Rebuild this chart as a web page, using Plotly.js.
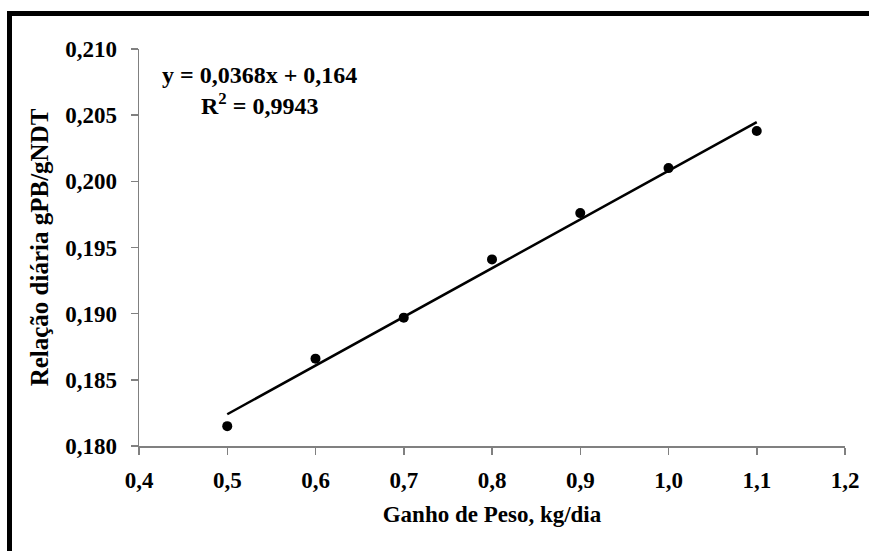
<!DOCTYPE html>
<html>
<head>
<meta charset="utf-8">
<script src="https://cdn.plot.ly/plotly-3.0.1.min.js"></script>
<style>
  html, body { margin: 0; padding: 0; background: #fff; }
  #wrap { position: relative; width: 869px; height: 551px; overflow: hidden; }
  #chart { position: absolute; left: 0; top: 0; width: 869px; height: 551px; }
  #frame { position: absolute; left: 7px; top: 11px; width: 880px; height: 560px;
           border-top: 5px solid #000; border-left: 5px solid #000; pointer-events: none; }
</style>
</head>
<body>
<div id="wrap">
  <div id="chart"></div>
  <div id="frame"></div>
</div>
<script>
// Data
const ganhoPeso = [0.5, 0.6, 0.7, 0.8, 0.9, 1.0, 1.1];
const relacao   = [0.1815, 0.1866, 0.1897, 0.1941, 0.1976, 0.2010, 0.2038];

// Linear trendline shown on the chart: y = 0,0368x + 0,164
const trendX = [0.5, 1.1];
const trendY = [0.1824, 0.20448];

const xTickVals = [0.4, 0.5, 0.6, 0.7, 0.8, 0.9, 1.0, 1.1, 1.2];
const xTickText = ["0,4", "0,5", "0,6", "0,7", "0,8", "0,9", "1,0", "1,1", "1,2"];
const yTickVals = [0.180, 0.185, 0.190, 0.195, 0.200, 0.205, 0.210];
const yTickText = ["0,180", "0,185", "0,190", "0,195", "0,200", "0,205", "0,210"];

const equationText = "y = 0,0368x + 0,164<br>R<sup>2</sup> = 0,9943";

const FONT = "Liberation Serif, Times New Roman, serif";

const traces = [
  {
    x: trendX, y: trendY, type: "scatter", mode: "lines",
    line: { color: "#000", width: 2.5 }, hoverinfo: "skip", showlegend: false
  },
  {
    x: ganhoPeso, y: relacao, type: "scatter", mode: "markers",
    marker: { color: "#000", size: 10 }, showlegend: false
  }
];

const layout = {
  width: 869, height: 551,
  margin: { l: 139, r: 24, t: 49, b: 105 },
  paper_bgcolor: "#fff", plot_bgcolor: "#fff",
  font: { family: FONT, color: "#000" },
  showlegend: false,
  xaxis: {
    range: [0.4, 1.2], tickvals: xTickVals, ticktext: xTickText,
    showgrid: false, zeroline: false,
    showline: true, linecolor: "#808080", linewidth: 1.5,
    ticks: "outside", ticklen: 7, tickcolor: "#808080", tickwidth: 1.5,
    tickfont: { family: FONT, size: 23, color: "#000", weight: "bold" },
    ticklabelstandoff: 6,
    title: { text: "<b>Ganho de Peso, kg/dia</b>", font: { family: FONT, size: 23, color: "#000" }, standoff: 14 }
  },
  yaxis: {
    range: [0.180, 0.210], tickvals: yTickVals, ticktext: yTickText,
    showgrid: false, zeroline: false,
    showline: true, linecolor: "#808080", linewidth: 1.5,
    ticks: "outside", ticklen: 7, tickcolor: "#808080", tickwidth: 1.5,
    tickfont: { family: FONT, size: 23, color: "#000", weight: "bold" },
    ticklabelstandoff: 9,
    title: { text: "<b>Relação diária gPB/gNDT</b>", font: { family: FONT, size: 25, color: "#000" }, standoff: 9 }
  },
  annotations: [
    {
      xref: "paper", yref: "paper", x: 0.171, y: 0.895,
      xanchor: "center", yanchor: "middle", align: "center",
      text: "<b>" + equationText + "</b>", showarrow: false,
      font: { family: FONT, size: 24, color: "#000" }
    }
  ]
};

Plotly.newPlot("chart", traces, layout, { displayModeBar: false, staticPlot: true });
</script>
</body>
</html>
